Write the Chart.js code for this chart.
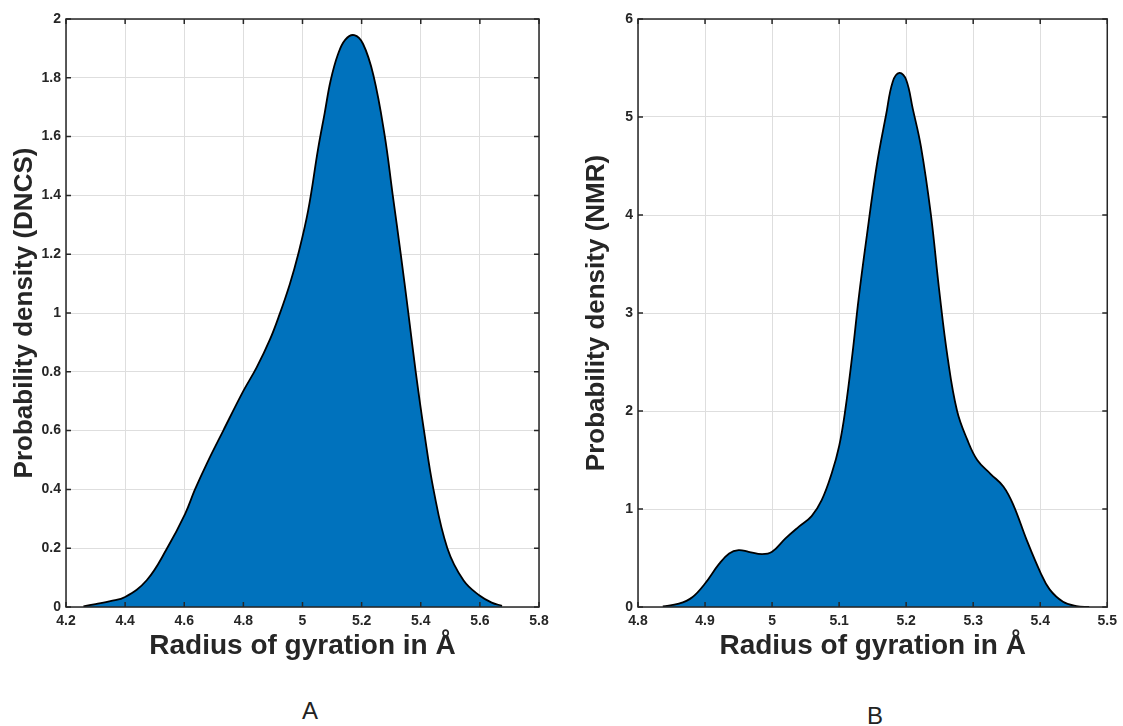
<!DOCTYPE html>
<html>
<head>
    <meta charset="UTF-8">
    <title>Radius of gyration</title>
    <style>
        body {
            margin: 0;
            padding: 0;
            background: #fff;
            width: 1123px;
            height: 726px;
            position: relative;
            overflow: hidden;
            font-family: 'Liberation Sans', Arial, sans-serif;
        }
        .box { position: absolute; top: 0; }
        #boxA { left: 0; width: 560px; height: 690px; }
        #boxB { left: 575px; width: 548px; height: 690px; }
        .tag {
            position: absolute;
            font-size: 24px;
            color: #222;
            transform: translate(-50%, -50%);
        }
    </style>
</head>
<body>
    <div class="box" id="boxA"><canvas id="chartA" width="560" height="690"></canvas></div>
    <div class="box" id="boxB"><canvas id="chartB" width="548" height="690"></canvas></div>
    <div class="tag" style="left:310px; top:711px;">A</div>
    <div class="tag" style="left:875px; top:716px;">B</div>

    <script src="https://cdn.jsdelivr.net/npm/chart.js"></script>
    <script>
        // density curve, DNCS (panel A)
        const dncsX = [4.259, 4.30, 4.35, 4.40, 4.473, 4.541, 4.603, 4.636, 4.676, 4.732, 4.80, 4.845, 4.89, 4.923,
                       4.957, 4.985, 5.019, 5.053, 5.075, 5.095, 5.12, 5.145, 5.175, 5.205, 5.24, 5.277, 5.305, 5.332,
                       5.358, 5.383, 5.411, 5.443, 5.49, 5.545, 5.60, 5.64, 5.675];
        const dncsY = [0.002, 0.010, 0.020, 0.034, 0.091, 0.198, 0.317, 0.399, 0.487, 0.600, 0.735, 0.815, 0.91, 0.997,
                       1.098, 1.198, 1.348, 1.56, 1.68, 1.79, 1.88, 1.93, 1.945, 1.915, 1.808, 1.61, 1.403, 1.203,
                       1.0, 0.80, 0.60, 0.40, 0.20, 0.09, 0.038, 0.015, 0.004];

        // density curve, NMR (panel B)
        const nmrX = [4.837, 4.861, 4.881, 4.90, 4.921, 4.936, 4.950, 4.965, 4.985, 5.0, 5.02, 5.04, 5.059, 5.074,
                      5.089, 5.10, 5.109, 5.12, 5.129, 5.14, 5.156, 5.17, 5.18, 5.19, 5.20, 5.21, 5.222, 5.237,
                      5.249, 5.262, 5.276, 5.291, 5.306, 5.326, 5.345, 5.36, 5.38, 5.40, 5.414, 5.434, 5.454, 5.473];
        const nmrY = [0.007, 0.034, 0.10, 0.24, 0.44, 0.546, 0.58, 0.563, 0.539, 0.563, 0.70, 0.82, 0.928, 1.09,
                      1.365, 1.64, 2.0, 2.59, 3.14, 3.72, 4.50, 5.02, 5.36, 5.45, 5.38, 5.08, 4.70, 4.0,
                      3.25, 2.54, 2.0, 1.71, 1.5, 1.357, 1.23, 1.04, 0.68, 0.357, 0.18, 0.054, 0.01, 0.0];

        // axis ranges / tick steps
        const xRangeA = [4.2, 5.8], xStepA = 0.2;
        const yRangeA = [0, 2], yStepA = 0.2;
        const xRangeB = [4.8, 5.5], xStepB = 0.1;
        const yRangeB = [0, 6], yStepB = 1;

        const xTitle = 'Radius of gyration in Å';
        const yTitleA = 'Probability density (DNCS)';
        const yTitleB = 'Probability density (NMR)';

        const ink = '#262626';
        const fontFam = "'Liberation Sans', Arial, sans-serif";

        function fmt(v) {
            return String(Number(v.toFixed(2)));
        }

        // box round the plot with inward tick marks (matlab style)
        const boxPlugin = {
            id: 'boxTicks',
            afterDatasetsDraw(chart) {
                const ctx = chart.ctx;
                const a = chart.chartArea;
                const xs = chart.scales.x, ys = chart.scales.y;
                ctx.save();
                ctx.strokeStyle = ink;
                ctx.lineWidth = 1.5;
                ctx.beginPath();
                xs.ticks.forEach(t => {
                    const p = xs.getPixelForValue(t.value);
                    ctx.moveTo(p, a.bottom); ctx.lineTo(p, a.bottom - 5);
                    ctx.moveTo(p, a.top); ctx.lineTo(p, a.top + 5);
                });
                ys.ticks.forEach(t => {
                    const p = ys.getPixelForValue(t.value);
                    ctx.moveTo(a.left, p); ctx.lineTo(a.left + 5, p);
                    ctx.moveTo(a.right, p); ctx.lineTo(a.right - 5, p);
                });
                ctx.stroke();
                ctx.strokeRect(a.left, a.top, a.right - a.left, a.bottom - a.top);
                ctx.restore();
            }
        };

        function makeChart(id, xs, ys, xr, xstep, yr, ystep, yTitle, yAxisW, yTitlePad, padRight) {
            const pts = xs.map((x, i) => ({ x: x, y: ys[i] }));
            return new Chart(document.getElementById(id), {
                type: 'line',
                data: {
                    datasets: [{
                        data: pts,
                        borderColor: '#000',
                        backgroundColor: '#0072BD',
                        borderWidth: 1.8,
                        pointRadius: 0,
                        fill: 'origin',
                        tension: 0.4
                    }]
                },
                options: {
                    responsive: false,
                    animation: false,
                    layout: { padding: { top: 19, right: padRight, left: 0, bottom: 0 } },
                    plugins: { legend: { display: false }, tooltip: { enabled: false } },
                    scales: {
                        x: {
                            type: 'linear',
                            min: xr[0], max: xr[1],
                            border: { display: false },
                            grid: { color: '#dedede', lineWidth: 1, drawTicks: false },
                            ticks: {
                                stepSize: xstep, autoSkip: false, maxRotation: 0, padding: 6,
                                color: ink, font: { family: fontFam, size: 14, weight: 'bold' },
                                callback: v => fmt(v)
                            },
                            title: {
                                display: true, text: xTitle, color: ink,
                                font: { family: fontFam, size: 28, weight: 'bold' },
                                padding: { top: 0, bottom: 27 }
                            },
                            afterFit: s => { s.height = 83; }
                        },
                        y: {
                            min: yr[0], max: yr[1],
                            border: { display: false },
                            grid: { color: '#dedede', lineWidth: 1, drawTicks: false },
                            ticks: {
                                stepSize: ystep, padding: 5,
                                color: ink, font: { family: fontFam, size: 14, weight: 'bold' },
                                callback: v => fmt(v)
                            },
                            title: {
                                display: true, text: yTitle, color: ink,
                                font: { family: fontFam, size: 26, weight: 'bold' },
                                padding: { top: yTitlePad, bottom: 0 }
                            },
                            afterFit: s => { s.width = yAxisW; }
                        }
                    }
                },
                plugins: [boxPlugin]
            });
        }

        makeChart('chartA', dncsX, dncsY, xRangeA, xStepA, yRangeA, yStepA, yTitleA, 66, 9, 21);
        makeChart('chartB', nmrX, nmrY, xRangeB, xStepB, yRangeB, yStepB, yTitleB, 63, 6, 12);
    </script>
</body>
</html>
